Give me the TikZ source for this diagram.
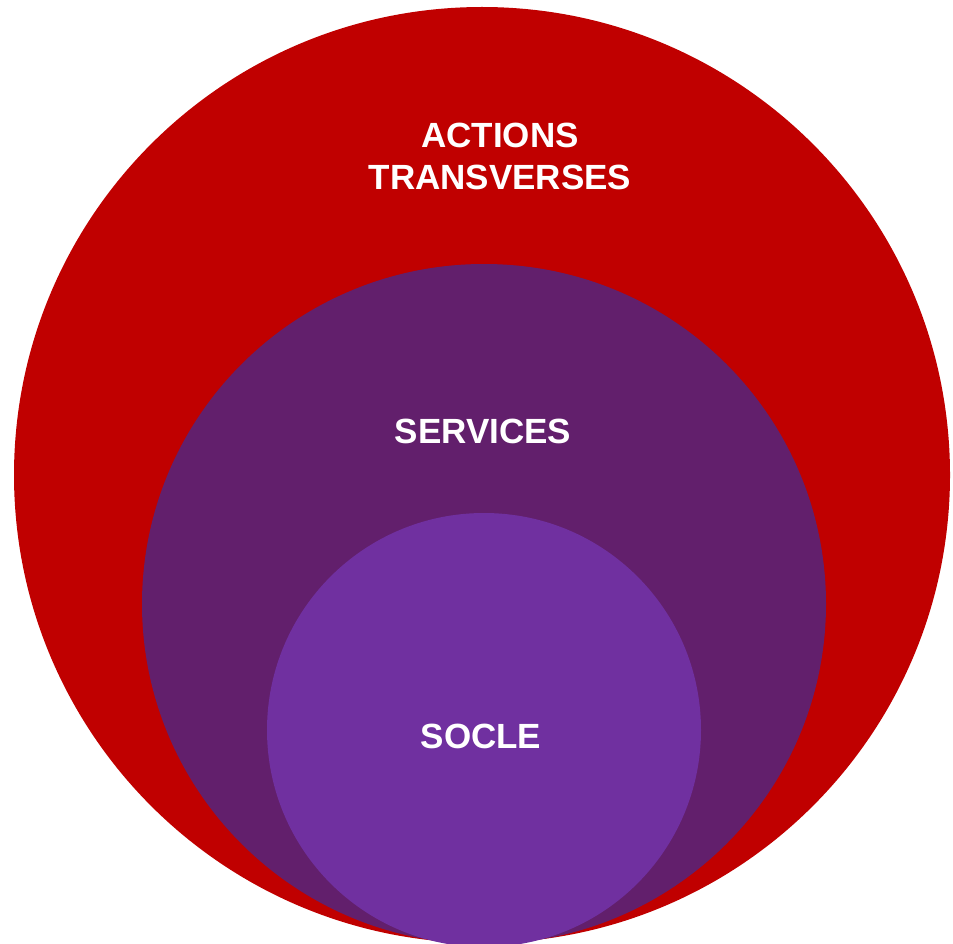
\documentclass[tikz,border=0pt]{standalone}
\usepackage{fontspec}
\setmainfont{Liberation Sans}
\definecolor{outerred}{HTML}{C00000}
\definecolor{midpurple}{HTML}{621F6C}
\definecolor{innerviolet}{HTML}{7030A0}
\begin{document}
\begin{tikzpicture}[x=1pt,y=-1pt,
  lbl/.style={text=white,font=\fontsize{35}{40}\selectfont\bfseries,inner sep=0pt,anchor=base}]
\useasboundingbox (0,0) rectangle (953,944);
\clip (0,0) rectangle (953,944);
\fill[outerred] (482,475) circle[radius=468];
\fill[midpurple] (484,604) ellipse[x radius=342,y radius=340];
\fill[innerviolet] (484,730) circle[radius=217];
\node[lbl] (act1) at (500,148) {ACTIONS};
\node[lbl] (act2) at (500,190) {TRANSVERSES};
\node[lbl] (serv) at (483,443) {SERVICES};
\node[lbl] (socle) at (481,748) {SOCLE};
\end{tikzpicture}
\end{document}
